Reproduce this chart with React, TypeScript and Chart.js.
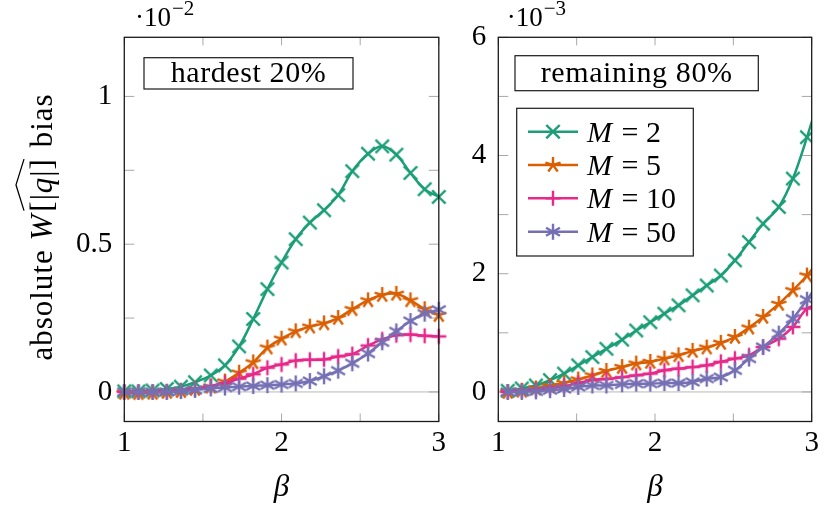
import { useEffect, useRef } from "react";
import { Chart, registerables } from "chart.js";
Chart.register(...registerables);

// ---------- data ----------
const seriesM = ["2", "5", "10", "50"];
const seriesColors = ["#1b9e77", "#d95f02", "#e7298a", "#7570b3"];
const seriesMarkers = ["x", "star", "plus", "asterisk"];

const betaLeft = [1.0, 1.09, 1.18, 1.27, 1.36, 1.45, 1.55, 1.64, 1.73, 1.82, 1.91, 2.0, 2.09, 2.18, 2.27, 2.36, 2.45, 2.55, 2.64, 2.73, 2.82, 2.91, 3.0];
const betaRight = [1.06, 1.15, 1.24, 1.33, 1.42, 1.51, 1.6, 1.69, 1.79, 1.88, 1.97, 2.06, 2.15, 2.24, 2.33, 2.42, 2.51, 2.6, 2.69, 2.79, 2.88, 2.97, 3.06];

// hardest 20% (x 1e-2)
const leftM2 = [0.002, 0.002, 0.005, 0.01, 0.018, 0.033, 0.056, 0.09, 0.154, 0.247, 0.348, 0.438, 0.517, 0.573, 0.615, 0.666, 0.747, 0.806, 0.831, 0.803, 0.741, 0.686, 0.66];
const leftM5 = [-0.003, -0.004, -0.003, 0.0, 0.003, 0.01, 0.018, 0.035, 0.065, 0.1, 0.15, 0.18, 0.205, 0.221, 0.232, 0.25, 0.28, 0.31, 0.328, 0.332, 0.31, 0.28, 0.26];
const leftM10 = [0.0, 0.0, 0.0, 0.002, 0.005, 0.01, 0.02, 0.03, 0.045, 0.06, 0.082, 0.093, 0.106, 0.109, 0.11, 0.12, 0.128, 0.157, 0.178, 0.192, 0.194, 0.19, 0.188];
const leftM50 = [0.0, 0.0, 0.0, 0.0, 0.003, 0.007, 0.012, 0.015, 0.018, 0.02, 0.023, 0.025, 0.029, 0.037, 0.053, 0.072, 0.097, 0.13, 0.168, 0.205, 0.24, 0.265, 0.278];

// remaining 80% (x 1e-3)
const rightM2 = [0.02, 0.06, 0.11, 0.2, 0.31, 0.45, 0.59, 0.73, 0.885, 1.04, 1.18, 1.325, 1.465, 1.634, 1.8, 1.97, 2.226, 2.535, 2.846, 3.13, 3.61, 4.31, 5.1];
const rightM5 = [0.0, 0.02, 0.06, 0.1, 0.15, 0.21, 0.28, 0.355, 0.42, 0.48, 0.507, 0.564, 0.62, 0.693, 0.75, 0.83, 0.93, 1.088, 1.27, 1.49, 1.72, 1.97, 2.28];
const rightM10 = [0.0, 0.02, 0.04, 0.07, 0.1, 0.15, 0.2, 0.22, 0.25, 0.28, 0.31, 0.367, 0.395, 0.42, 0.45, 0.51, 0.565, 0.62, 0.76, 0.9, 1.1, 1.41, 1.5];
const rightM50 = [0.0, 0.0, 0.01, 0.03, 0.05, 0.085, 0.11, 0.11, 0.13, 0.14, 0.14, 0.15, 0.15, 0.17, 0.225, 0.25, 0.367, 0.565, 0.76, 0.987, 1.24, 1.56, 1.9];

const xTicks = [1, 1.5, 2, 2.5, 3];
const xTickLabels = ["1", "", "2", "", "3"];
const leftYTicks = [0, 0.25, 0.5, 0.75, 1];
const leftYTickLabels = ["0", "", "0.5", "", "1"];
const rightYTicks = [0, 1, 2, 3, 4, 5, 6];
const rightYTickLabels = ["0", "", "2", "", "4", "", "6"];

const leftTitle = "hardest 20%";
const rightTitle = "remaining 80%";
const leftExponent = "−2";
const rightExponent = "−3";
const xAxisTitle = "β";

// ---------- styling helpers ----------
const SERIF = "'Liberation Serif', 'DejaVu Serif', serif";

function drawMarker(ctx: CanvasRenderingContext2D, kind: string, color: string, cx: number, cy: number) {
  ctx.save();
  ctx.strokeStyle = color;
  ctx.lineWidth = 2.4;
  ctx.lineCap = "butt";
  let angles: number[];
  let r: number;
  if (kind === "x") {
    r = 9.5;
    angles = [45, 135, 225, 315];
  } else if (kind === "plus") {
    r = 7.5;
    angles = [0, 90, 180, 270];
  } else if (kind === "star") {
    r = 8;
    angles = [90, 162, 234, 306, 18];
  } else {
    r = 8;
    angles = [90, 210, 330, 270, 30, 150];
  }
  ctx.beginPath();
  for (const a of angles) {
    const t = (a * Math.PI) / 180;
    ctx.moveTo(cx, cy);
    ctx.lineTo(cx + r * Math.cos(t), cy - r * Math.sin(t));
  }
  ctx.stroke();
  ctx.restore();
}

function makeMarkerCanvas(kind: string, color: string) {
  const c = document.createElement("canvas");
  c.width = 24;
  c.height = 24;
  const ctx = c.getContext("2d")!;
  drawMarker(ctx, kind, color, 12, 12);
  return c;
}

type PanelCfg = {
  left: number;
  width: number;
  area: { l: number; r: number; t: number; b: number };
  beta: number[];
  series: number[][];
  yMin: number;
  yMax: number;
  yTicks: number[];
  yLabels: string[];
  title: string;
  titleBox: { x0: number; x1: number; y0: number; y1: number };
  exponent: string;
  expX: number;
  showYTitle: boolean;
  showLegend: boolean;
  clip: any;
};

const H = 510;

const panels: PanelCfg[] = [
  {
    left: 0,
    width: 465,
    area: { l: 124.3, r: 438.8, t: 37.3, b: 421.5 },
    beta: betaLeft,
    series: [leftM2, leftM5, leftM10, leftM50],
    yMin: -0.1,
    yMax: 1.2,
    yTicks: leftYTicks,
    yLabels: leftYTickLabels,
    title: leftTitle,
    titleBox: { x0: 144, x1: 353, y0: 57.7, y1: 89 },
    exponent: leftExponent,
    expX: 135,
    showYTitle: true,
    showLegend: false,
    clip: false,
  },
  {
    left: 465,
    width: 365,
    area: { l: 498.3, r: 811.7, t: 37.3, b: 421.5 },
    beta: betaRight,
    series: [rightM2, rightM5, rightM10, rightM50],
    yMin: -0.5,
    yMax: 6,
    yTicks: rightYTicks,
    yLabels: rightYTickLabels,
    title: rightTitle,
    titleBox: { x0: 515, x1: 758.3, y0: 55.7, y1: 90.7 },
    exponent: rightExponent,
    expX: 506.7,
    showYTitle: false,
    showLegend: true,
    clip: { left: 12, top: 12, right: 0, bottom: 12 },
  },
];

function drawYTitle(ctx: CanvasRenderingContext2D, bx: number, cy: number) {
  const up = `31px ${SERIF}`;
  const it = `italic 31px ${SERIF}`;
  const parts = [
    { t: "absolute ", f: up },
    { t: "W", f: it },
    { t: "[|", f: up },
    { t: "q", f: it },
    { t: "|]", f: up },
    { t: " bias", f: up },
  ];
  ctx.save();
  ctx.translate(bx, cy);
  ctx.rotate(-Math.PI / 2);
  ctx.fillStyle = "#000";
  ctx.textBaseline = "alphabetic";
  ctx.textAlign = "left";
  (ctx as any).letterSpacing = "1px";
  const widths = parts.map((p) => {
    ctx.font = p.f;
    return ctx.measureText(p.t).width;
  });
  const gap = 2;
  const total = widths.reduce((a, b) => a + b, 0) + gap * 2;
  let x = -total / 2;
  let hatStart = 0;
  let hatEnd = 0;
  parts.forEach((p, i) => {
    ctx.font = p.f;
    if (i === 2) {
      x += gap;
      hatStart = x;
    }
    ctx.fillText(p.t, x, 0);
    x += widths[i];
    if (i === 4) {
      hatEnd = x;
      x += gap;
    }
  });
  (ctx as any).letterSpacing = "0px";
  ctx.strokeStyle = "#000";
  ctx.lineWidth = 1.3;
  ctx.beginPath();
  ctx.moveTo(hatStart + 1, -28);
  ctx.lineTo((hatStart + hatEnd) / 2, -36);
  ctx.lineTo(hatEnd - 1, -28);
  ctx.stroke();
  ctx.restore();
}

function buildConfig(cfg: PanelCfg, markerCanvases: HTMLCanvasElement[]): any {
  const ox = cfg.left;
  const datasets = cfg.series.map((vals, i) => ({
    label: "M = " + seriesM[i],
    data: cfg.beta.map((b, j) => ({ x: b, y: vals[j] })),
    borderColor: seriesColors[i],
    backgroundColor: seriesColors[i],
    borderWidth: 2.5,
    pointStyle: markerCanvases[i],
    pointRadius: 8,
    pointHoverRadius: 8,
    tension: 0.35,
    order: 3 - i,
    clip: cfg.clip,
  }));

  const decor = {
    id: "decor",
    beforeDatasetsDraw(chart: any) {
      const ctx: CanvasRenderingContext2D = chart.ctx;
      const a = chart.chartArea;
      const xs = chart.scales.x;
      const ys = chart.scales.y;
      ctx.save();
      // zero line
      ctx.strokeStyle = "#b8b8b8";
      ctx.lineWidth = 1;
      const y0 = ys.getPixelForValue(0);
      ctx.beginPath();
      ctx.moveTo(a.left, y0);
      ctx.lineTo(a.right, y0);
      ctx.stroke();
      // inward ticks
      ctx.strokeStyle = "#a8a8a8";
      ctx.lineWidth = 1;
      ctx.beginPath();
      for (const v of cfg.yTicks) {
        const yy = ys.getPixelForValue(v);
        ctx.moveTo(a.left, yy);
        ctx.lineTo(a.left + 10, yy);
        ctx.moveTo(a.right, yy);
        ctx.lineTo(a.right - 10, yy);
      }
      for (const v of xTicks) {
        const xx = xs.getPixelForValue(v);
        ctx.moveTo(xx, a.top);
        ctx.lineTo(xx, a.top + 8);
        ctx.moveTo(xx, a.bottom);
        ctx.lineTo(xx, a.bottom - 8);
      }
      ctx.stroke();
      ctx.restore();
    },
    afterDatasetsDraw(chart: any) {
      const ctx: CanvasRenderingContext2D = chart.ctx;
      const a = chart.chartArea;
      ctx.save();
      // frame
      ctx.strokeStyle = "#1a1a1a";
      ctx.lineWidth = 1.3;
      ctx.strokeRect(a.left, a.top, a.right - a.left, a.bottom - a.top);

      // title box
      const tb = cfg.titleBox;
      ctx.fillStyle = "#fff";
      ctx.fillRect(tb.x0 - ox, tb.y0, tb.x1 - tb.x0, tb.y1 - tb.y0);
      ctx.strokeStyle = "#1a1a1a";
      ctx.lineWidth = 1.2;
      ctx.strokeRect(tb.x0 - ox, tb.y0, tb.x1 - tb.x0, tb.y1 - tb.y0);
      ctx.fillStyle = "#000";
      ctx.font = `30px ${SERIF}`;
      ctx.textAlign = "center";
      ctx.textBaseline = "alphabetic";
      (ctx as any).letterSpacing = "0.6px";
      ctx.fillText(cfg.title, (tb.x0 + tb.x1) / 2 - ox, 82);
      (ctx as any).letterSpacing = "0px";

      // exponent
      ctx.textAlign = "left";
      ctx.font = `27px ${SERIF}`;
      const base = "·10";
      ctx.fillText(base, cfg.expX - ox, 26);
      const bw = ctx.measureText(base).width;
      ctx.font = `21px ${SERIF}`;
      ctx.fillText(cfg.exponent, cfg.expX - ox + bw + 1, 15);

      // x axis title
      ctx.font = `italic 31px ${SERIF}`;
      ctx.textAlign = "center";
      ctx.fillText(xAxisTitle, (a.left + a.right) / 2, 496);

      if (cfg.showYTitle) drawYTitle(ctx, 52, 227);

      if (cfg.showLegend) {
        const lx0 = 516.7 - ox;
        const lx1 = 693.3 - ox;
        const ly0 = 108.3;
        const ly1 = 256;
        ctx.fillStyle = "#fff";
        ctx.fillRect(lx0, ly0, lx1 - lx0, ly1 - ly0);
        ctx.strokeStyle = "#1a1a1a";
        ctx.lineWidth = 1.2;
        ctx.strokeRect(lx0, ly0, lx1 - lx0, ly1 - ly0);
        const rows = [131.7, 165, 198.3, 231.7];
        seriesM.forEach((m, i) => {
          const yy = rows[i];
          ctx.strokeStyle = seriesColors[i];
          ctx.lineWidth = 2.5;
          ctx.beginPath();
          ctx.moveTo(528 - ox, yy);
          ctx.lineTo(578 - ox, yy);
          ctx.stroke();
          drawMarker(ctx, seriesMarkers[i], seriesColors[i], 553 - ox, yy);
          ctx.fillStyle = "#000";
          ctx.textAlign = "left";
          ctx.textBaseline = "alphabetic";
          ctx.font = `italic 30px ${SERIF}`;
          ctx.fillText("M", 587 - ox, yy + 10);
          const mw = ctx.measureText("M").width;
          ctx.font = `30px ${SERIF}`;
          ctx.fillText(" = " + m, 587 - ox + mw + 2, yy + 10);
        });
      }
      ctx.restore();
    },
  };

  return {
    type: "line",
    data: { datasets },
    options: {
      animation: false,
      responsive: false,
      maintainAspectRatio: false,
      layout: {
        padding: { top: cfg.area.t, right: cfg.left + cfg.width - cfg.area.r, left: 0, bottom: 0 },
      },
      plugins: { legend: { display: false }, tooltip: { enabled: false } },
      scales: {
        x: {
          type: "linear",
          min: 1,
          max: 3,
          grid: { display: false, drawTicks: false },
          border: { display: false },
          ticks: {
            autoSkip: false,
            maxRotation: 0,
            padding: 4,
            color: "#000",
            font: { family: SERIF, size: 29 },
            callback: (_v: any, i: number) => xTickLabels[i],
          },
          afterBuildTicks: (s: any) => {
            s.ticks = xTicks.map((v) => ({ value: v }));
          },
          afterFit: (s: any) => {
            s.height = H - cfg.area.b;
          },
        },
        y: {
          type: "linear",
          min: cfg.yMin,
          max: cfg.yMax,
          grid: { display: false, drawTicks: false },
          border: { display: false },
          ticks: {
            autoSkip: false,
            padding: 12,
            color: "#000",
            font: { family: SERIF, size: 29 },
            callback: (_v: any, i: number) => cfg.yLabels[i],
          },
          afterBuildTicks: (s: any) => {
            s.ticks = cfg.yTicks.map((v) => ({ value: v }));
          },
          afterFit: (s: any) => {
            s.width = cfg.area.l - cfg.left;
          },
        },
      },
    },
    plugins: [decor],
  };
}

function Panel({ cfg }: { cfg: PanelCfg }) {
  const ref = useRef<HTMLCanvasElement>(null);
  useEffect(() => {
    const markers = seriesMarkers.map((k, i) => makeMarkerCanvas(k, seriesColors[i]));
    const chart = new Chart(ref.current!, buildConfig(cfg, markers));
    return () => chart.destroy();
  }, [cfg]);
  return (
    <canvas
      ref={ref}
      width={cfg.width}
      height={H}
      style={{ position: "absolute", left: cfg.left, top: 0, width: cfg.width, height: H }}
    />
  );
}

export default function App() {
  return (
    <div style={{ position: "absolute", left: 0, top: 0, width: 830, height: H, background: "#fff" }}>
      {panels.map((p, i) => (
        <Panel key={i} cfg={p} />
      ))}
    </div>
  );
}
